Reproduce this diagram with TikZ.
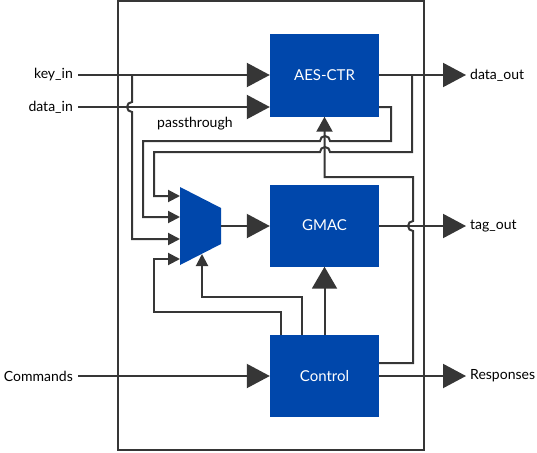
\documentclass[tikz,border=0pt]{standalone}
\usepackage{fontspec}
\setmainfont{Lato}
\usetikzlibrary{arrows.meta}
\definecolor{blk}{HTML}{0047AB}
\definecolor{wirec}{HTML}{363636}
\begin{document}
\begin{tikzpicture}[x=1pt,y=-1pt,
  wire/.style={draw=wirec,line width=2pt},
  big/.style={-{Triangle[length=23pt,width=24pt]}},
  small/.style={-{Triangle[length=12pt,width=12pt]}},
  blkbox/.style={fill=blk,draw=none,minimum width=109pt,minimum height=82pt,text=white,font=\fontsize{15}{17}\selectfont,inner sep=0pt},
  lbl/.style={font=\fontsize{14}{16}\selectfont,inner sep=0pt,text=black}]
\useasboundingbox (0,0) rectangle (537,452);
% frame
\draw[wire] (118,1) rectangle (424,450);
% blocks
\node[blkbox] (aes) at (324.5,75.5) {AES-CTR};
\node[blkbox] (gmac) at (324.5,225.5) {GMAC};
\node[blkbox] (ctrl) at (324.5,376) {Control};
% mux
\fill[blk] (180,187) -- (221,208) -- (221,244) -- (180,265) -- cycle;
\coordinate (mi1) at (180,196);
\coordinate (mi2) at (180,217);
\coordinate (mi3) at (180,239);
\coordinate (mi4) at (180,259);
\coordinate (mo) at (221,226);
\coordinate (msel) at (202,254);
% labels
\node[lbl,anchor=east] (tkey) at (73,75) {key\_in};
\node[lbl,anchor=east] (tdata) at (73,107) {data\_in};
\node[lbl,anchor=east] (tcmd) at (73,376) {Commands};
\node[lbl,anchor=west] (tdout) at (470,75) {data\_out};
\node[lbl,anchor=west] (ttag) at (470,226) {tag\_out};
\node[lbl,anchor=west] (tresp) at (470,376) {Responses};
\node[lbl,anchor=west] (tpass) at (157,124) {passthrough};
% end points
\coordinate (kin) at (78,75);
\coordinate (din) at (78,107);
\coordinate (cin) at (78,376);
\coordinate (dout) at (466,75);
\coordinate (tout) at (466,226);
\coordinate (rout) at (466,376);
\coordinate (jk) at (132,75);
\coordinate (jd) at (412,75);
% external connections
\draw[wire,big] (kin) -- (kin -| aes.west);
\draw[wire,big] (din) -- (din -| aes.west);
\draw[wire,big] (cin) -- (cin -| ctrl.west);
\draw[wire,big] (aes.east |- dout) -- (dout);
\draw[wire,big] (gmac.east |- tout) -- (tout);
\draw[wire,big] (ctrl.east |- rout) -- (rout);
% key_in to mux
\draw[wire,small] (jk) -- (132,102) arc[start angle=270,end angle=90,radius=5] -- (132,239) -- (mi3);
% passthrough
\draw[wire,small] (aes.east |- 0,107) -- (391,107) -- (391,141) -- (330,141) arc[start angle=0,end angle=-180,radius=5] -- (143,141) -- (143,217) -- (mi2);
% data_out feedback
\draw[wire,small] (jd) -- (412,152) -- (330,152) arc[start angle=0,end angle=-180,radius=5] -- (154,152) -- (154,196) -- (mi1);
% control to AES
\draw[wire,-{Triangle[length=15pt,width=16pt]}] (ctrl.east |- 0,363) -- (413,363) -- (413,231) arc[start angle=90,end angle=270,radius=5] -- (413,177) -- (aes.south |- 0,177) -- (aes.south);
% control to GMAC
\draw[wire,-{Triangle[length=22pt,width=25pt]}] (ctrl.north) -- (gmac.south);
% control to mux select
\draw[wire,small] (ctrl.north -| 302,0) -- (302,297) -- (202,297) -- (msel);
% control to mux input 4
\draw[wire,small] (ctrl.north -| 281,0) -- (281,312) -- (154,312) -- (154,259) -- (mi4);
% mux to GMAC
\draw[wire,big] (mo) -- (mo -| gmac.west);
\end{tikzpicture}
\end{document}
